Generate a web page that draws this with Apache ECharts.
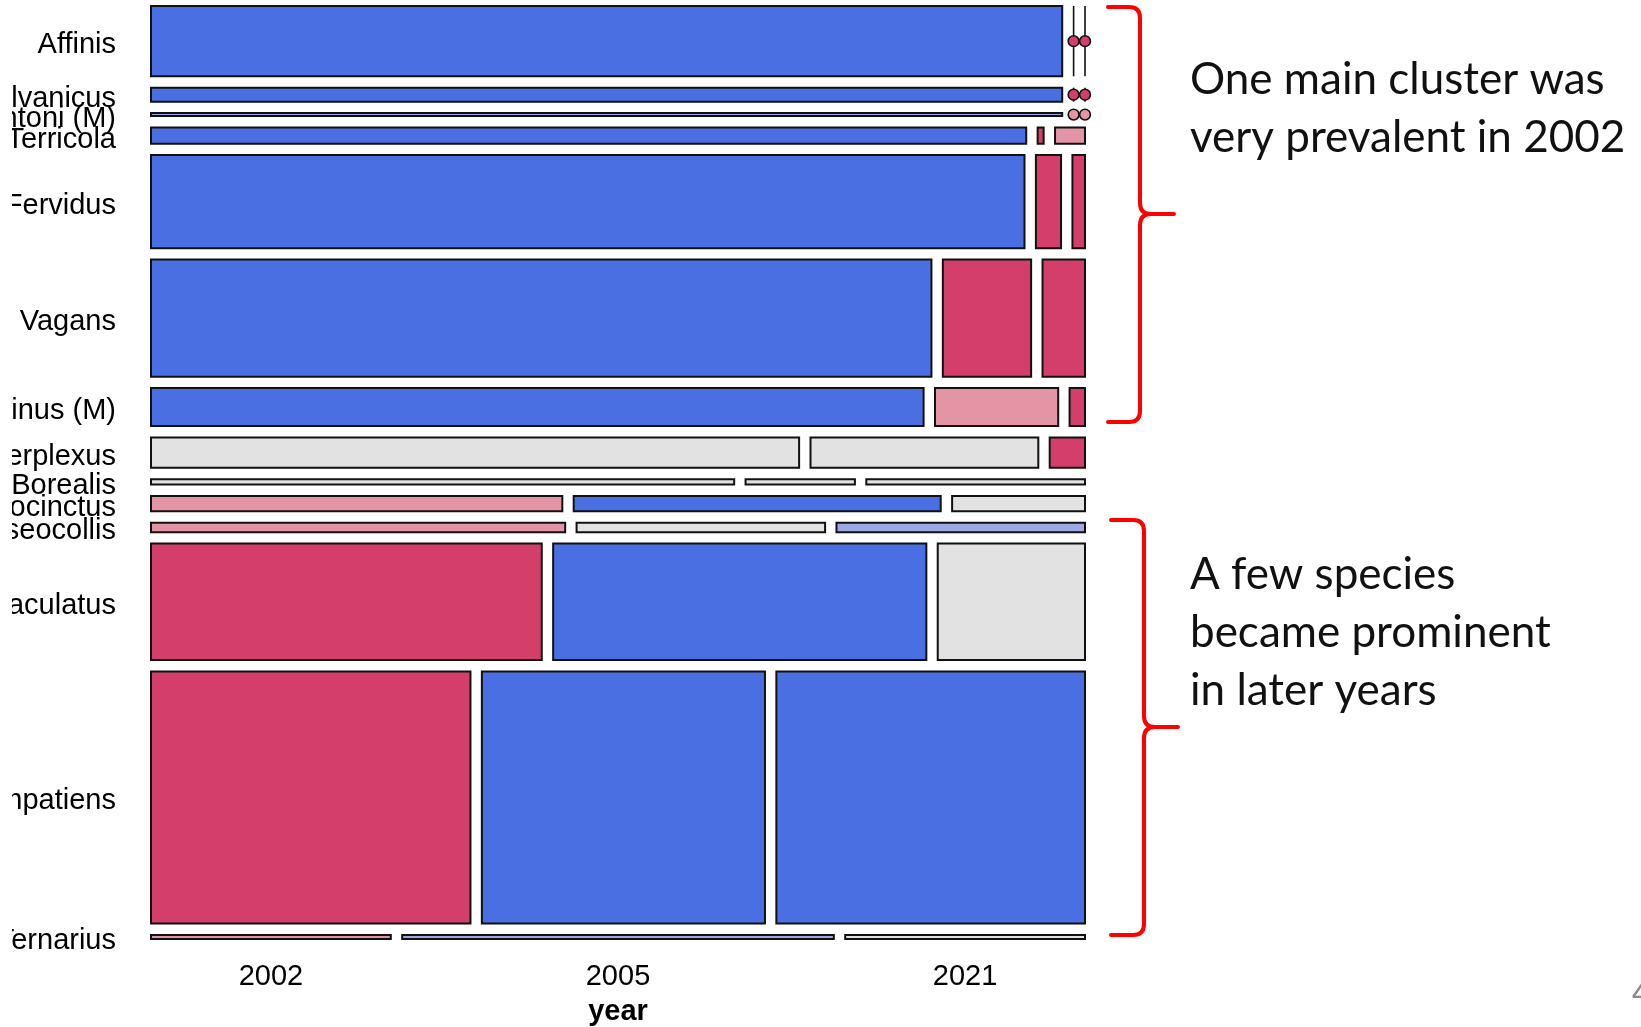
<!DOCTYPE html>
<html>
<head>
<meta charset="utf-8">
<title>Bumble bee species by survey year</title>
<script src="https://cdn.jsdelivr.net/npm/echarts@6/dist/echarts.min.js"></script>
<style>
  html, body { margin: 0; padding: 0; background: #ffffff; }
  #chart { width: 1641px; height: 1027px; }
</style>
</head>
<body>
<div id="chart"></div>
<script>
// Species (rows of the mosaic) and survey years (columns)
const species = ['Affinis', 'Pensylvanicus', 'Ashtoni (M)', 'Terricola', 'Fervidus', 'Vagans',
  'Citrinus (M)', 'Perplexus', 'Borealis', 'Rufocinctus', 'Griseocollis', 'Bimaculatus',
  'Impatiens', 'Ternarius'];
const years = ['2002', '2005', '2021'];

// Specimen counts per species and year
const count2002 = [657, 131, 28, 146, 834, 937, 301, 202, 32, 65, 40, 467, 826, 10];
const count2005 = [0, 0, 0, 1, 24, 106, 48, 71, 6, 58, 24, 446, 732, 18];
const count2021 = [0, 0, 0, 5, 12, 51, 6, 11, 12, 21, 24, 176, 798, 10];

// Pearson residual class of each cell: -2 strongly below, -1 below, 0 neutral, 1 above, 2 strongly above
const shade2002 = [2, 2, 1, 2, 2, 2, 2, 0, 0, -1, -1, -2, -2, -1];
const shade2005 = [-2, -2, -1, -2, -2, -2, -1, 0, 0, 2, 0, 2, 2, 1];
const shade2021 = [-2, -2, -1, -1, -2, -2, -2, -2, 0, 0, 1, 0, 2, 0];

const SHADE_COLORS = { '-2': '#D33F6A', '-1': '#E495A5', '0': '#E2E2E2', '1': '#9DA8E2', '2': '#4A6FE3' };
const SPACING = 0.0122;          // gap between tiles, as a share of each axis
const LABEL_FONT = '"Liberation Sans", Arial, sans-serif';
const NOTE_FONT = 'Lato, "Open Sans", sans-serif';

// Mosaic layout in unit coordinates: rows split by species totals, then columns by year share
const counts = [count2002, count2005, count2021];
const shades = [shade2002, shade2005, shade2021];
const rowTotals = species.map((_, i) => counts.reduce((s, c) => s + c[i], 0));
const grandTotal = rowTotals.reduce((a, b) => a + b, 0);
const yShare = 1 - SPACING * (species.length - 1);
const xShare = 1 - SPACING * (years.length - 1);

const tiles = [];
const rowMid = [];
let yPos = 0;
species.forEach((name, i) => {
  const h = yShare * rowTotals[i] / grandTotal;
  let xPos = 0;
  years.forEach((yr, j) => {
    const w = xShare * counts[j][i] / rowTotals[i];
    tiles.push([xPos, xPos + w, yPos, yPos + h, shades[j][i], counts[j][i] === 0 ? 1 : 0]);
    xPos += w + SPACING;
  });
  rowMid.push([0, yPos + h / 2, i]);
  yPos += h + SPACING;
});
// year labels sit under the tiles of the last row
const lastRow = tiles.slice(-years.length);
const yearMid = lastRow.map((t, j) => [(t[0] + t[1]) / 2, 1, j]);

const chart = echarts.init(document.getElementById('chart'), null, { renderer: 'canvas' });

function tileItem(params, api) {
  const p0 = api.coord([api.value(0), api.value(2)]);
  const p1 = api.coord([api.value(1), api.value(3)]);
  const color = SHADE_COLORS[String(api.value(4))];
  if (api.value(5)) {
    // empty cell: a rule across the row with a dot
    const cx = p0[0];
    const cy = (p0[1] + p1[1]) / 2;
    return {
      type: 'group',
      children: [
        { type: 'line', shape: { x1: cx, y1: p0[1], x2: cx, y2: p1[1] }, style: { stroke: '#111', lineWidth: 1.6 } },
        { type: 'circle', shape: { cx: cx, cy: cy, r: 5.4 }, style: { fill: color, stroke: '#111', lineWidth: 1.6 } }
      ]
    };
  }
  return {
    type: 'rect',
    shape: { x: p0[0], y: p0[1], width: p1[0] - p0[0], height: p1[1] - p0[1] },
    style: { fill: color, stroke: '#111', lineWidth: 2 }
  };
}

function rowLabel(params, api) {
  const p = api.coord([api.value(0), api.value(1)]);
  return {
    type: 'text',
    style: {
      text: species[api.value(2)], x: p[0] - 35, y: p[1] + 4,
      align: 'right', verticalAlign: 'middle',
      fontSize: 29, fontFamily: LABEL_FONT, fill: '#000'
    }
  };
}

function yearLabel(params, api) {
  const p = api.coord([api.value(0), api.value(1)]);
  return {
    type: 'text',
    style: {
      text: years[api.value(2)], x: p[0], y: p[1] + 38,
      align: 'center', verticalAlign: 'middle',
      fontSize: 29, fontFamily: LABEL_FONT, fill: '#000'
    }
  };
}

// Curly braces grouping the species into two clusters
const braces = [
  'M1108,7 H1129 Q1140,7 1140,18 V203 Q1140,214 1151,214 H1174 M1151,214 Q1140,214 1140,225 V411 Q1140,422 1129,422 H1108',
  'M1111,520 H1133 Q1144,520 1144,531 V716 Q1144,727 1155,727 H1178 M1155,727 Q1144,727 1144,738 V924 Q1144,935 1133,935 H1111'
];

function braceItem(params, api) {
  return {
    type: 'path',
    shape: { pathData: braces[params.dataIndex] },
    style: { fill: 'none', stroke: '#ff0000', lineWidth: 4, lineJoin: 'round', lineCap: 'round' }
  };
}

chart.setOption({
  animation: false,
  backgroundColor: '#ffffff',
  grid: { left: 151, top: 6, width: 934, height: 933, containLabel: false, outerBoundsMode: 'none' },
  xAxis: {
    type: 'value', min: 0, max: 1,
    axisLine: { show: false }, axisTick: { show: false }, axisLabel: { show: false }, splitLine: { show: false },
    name: 'year', nameLocation: 'middle', nameGap: 58,
    nameTextStyle: { fontSize: 29, fontWeight: 'bold', fontFamily: LABEL_FONT, color: '#000' }
  },
  yAxis: {
    type: 'value', min: 0, max: 1, inverse: true, show: false
  },
  series: [
    { type: 'custom', renderItem: tileItem, data: tiles, encode: { x: [0, 1], y: [2, 3] }, clip: false, z: 2 },
    { type: 'custom', renderItem: rowLabel, data: rowMid, encode: { x: 0, y: 1 }, clip: false, z: 3 },
    { type: 'custom', renderItem: yearLabel, data: yearMid, encode: { x: 0, y: 1 }, clip: false, z: 3 },
    { type: 'custom', coordinateSystem: 'none', renderItem: braceItem, data: [[0], [1]], clip: false, z: 4, silent: true }
  ],
  graphic: [
    { type: 'rect', left: 0, top: 0, z: 100, shape: { width: 12, height: 1027 }, style: { fill: '#ffffff' } },
    { type: 'text', z: 50, x: 1190, y: 80, style: { text: 'One main cluster was', fontSize: 44, fontFamily: NOTE_FONT, fill: '#111', verticalAlign: 'middle' } },
    { type: 'text', z: 50, x: 1190, y: 138, style: { text: 'very prevalent in 2002', fontSize: 44, fontFamily: NOTE_FONT, fill: '#111', verticalAlign: 'middle' } },
    { type: 'text', z: 50, x: 1190, y: 575, style: { text: 'A few species', fontSize: 44, fontFamily: NOTE_FONT, fill: '#111', verticalAlign: 'middle' } },
    { type: 'text', z: 50, x: 1190, y: 633, style: { text: 'became prominent', fontSize: 44, fontFamily: NOTE_FONT, fill: '#111', verticalAlign: 'middle' } },
    { type: 'text', z: 50, x: 1190, y: 691, style: { text: 'in later years', fontSize: 44, fontFamily: NOTE_FONT, fill: '#111', verticalAlign: 'middle' } },
    { type: 'text', z: 50, x: 1632, y: 994, style: { text: '4', fontSize: 32, fontFamily: NOTE_FONT, fill: '#8c8c8c', verticalAlign: 'middle' } }
  ]
});
</script>
</body>
</html>
